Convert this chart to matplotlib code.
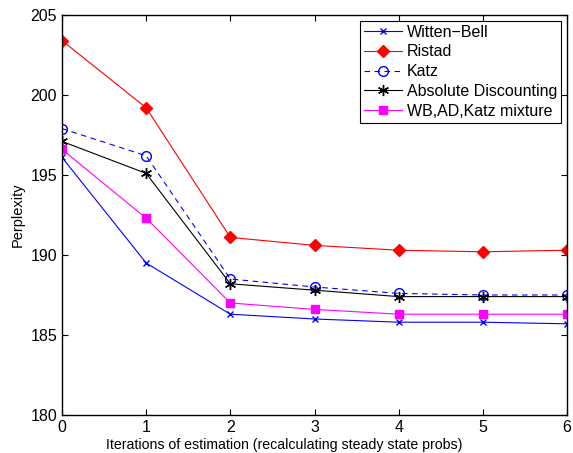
import matplotlib
matplotlib.use("Agg")
import matplotlib.pyplot as plt

# data
iterations = [0, 1, 2, 3, 4, 5, 6]
witten_bell = [196.1, 189.5, 186.3, 186.0, 185.8, 185.8, 185.7]
ristad = [203.4, 199.2, 191.1, 190.6, 190.3, 190.2, 190.3]
katz = [197.9, 196.2, 188.5, 188.0, 187.6, 187.5, 187.5]
abs_disc = [197.1, 195.1, 188.2, 187.8, 187.4, 187.4, 187.4]
mixture = [196.6, 192.3, 187.0, 186.6, 186.3, 186.3, 186.3]

plt.rcParams["font.family"] = ["Liberation Sans", "DejaVu Sans"]
plt.rcParams["font.size"] = 10

fig = plt.figure(figsize=(5.73, 4.53), dpi=100)
ax = fig.add_axes([62 / 573, 1 - 415 / 453, 505 / 573, 400 / 453])

ax.plot(iterations, witten_bell, color="blue", marker="x", ms=5, lw=0.8,
        label="Witten\u2212Bell")
ax.plot(iterations, ristad, color="red", marker="D", ms=6, lw=0.8,
        label="Ristad")
ax.plot(iterations, katz, color="blue", marker="o", ms=7, mfc="none", lw=0.8,
        linestyle=(0, (5, 4)), label="Katz")
ax.plot(iterations, abs_disc, color="black", marker=(6, 2, 0), ms=8, mew=1.0,
        lw=0.8, label="Absolute Discounting")
ax.plot(iterations, mixture, color="magenta", marker="s", ms=6, lw=0.8,
        label="WB,AD,Katz mixture")

ax.set_xlim(0, 6)
ax.set_ylim(180, 205)
ax.set_xticks(range(0, 7))
ax.set_yticks(range(180, 206, 5))
ax.tick_params(direction="in", top=True, right=True, length=4, width=0.8,
               labelsize=11.5)
for s in ax.spines.values():
    s.set_linewidth(1.0)

ax.set_xlabel("Iterations of estimation (recalculating steady state probs)",
              fontsize=10.2)
ax.xaxis.set_label_coords(0.44, -0.058)
ax.set_ylabel("Perplexity", fontsize=10.5)

leg = ax.legend(loc="upper right", fontsize=11.5, fancybox=False,
                edgecolor="black", framealpha=1, borderaxespad=0.35,
                handlelength=2.4, labelspacing=0.3, borderpad=0.25,
                handletextpad=0.3)
leg.get_frame().set_linewidth(0.8)

fig.savefig("out.png", dpi=100)
